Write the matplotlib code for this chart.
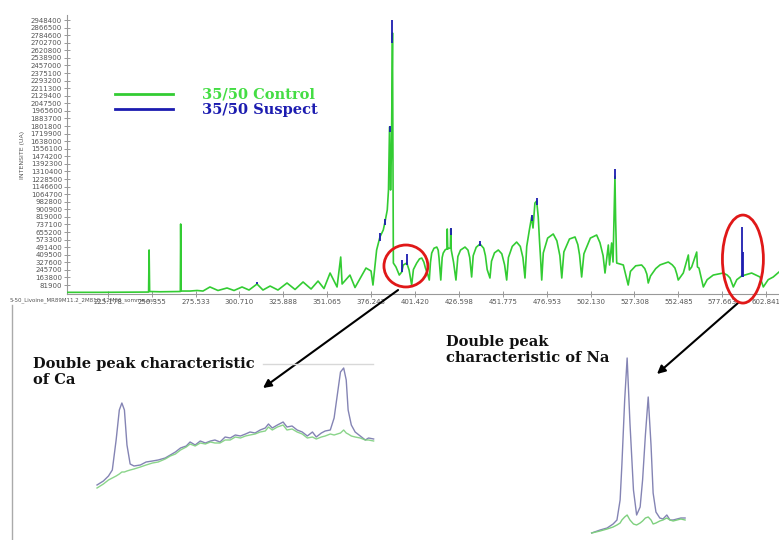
import matplotlib
matplotlib.use('Agg')
import matplotlib.pyplot as plt
from matplotlib.patches import Ellipse
from matplotlib.lines import Line2D

W, H = 779, 540
GREEN = '#33cc33'
BLUE = '#1c1cb0'

# ---------------- main spectrum (control), wavelength nm / intensity counts
control_nm = [
    201.8, 220.8, 247.7, 248.6, 248.9, 249.2, 255.2, 266.6, 266.8, 267.0,
    267.3, 272.4, 276.4, 279.8, 283.8, 288.4, 293.6, 297.6, 302.2, 306.2,
    310.8, 314.2, 318.3, 322.8, 328.0, 332.6, 337.2, 341.8, 345.8, 349.2,
    352.7, 356.7, 358.8, 359.6, 364.1, 367.0, 373.3, 376.2, 377.3, 379.4,
    381.3, 383.2, 384.2, 385.5, 386.2, 386.8, 387.4, 387.9, 388.5, 389.0,
    390.5, 392.4, 393.8, 394.7, 396.7, 398.0, 399.5,
    400.5, 402.4, 404.0, 405.3, 406.5, 407.4, 408.7, 409.6,
    410.3, 411.0, 412.3, 413.9, 414.7, 415.2, 416.2,
    417.0, 417.6, 418.8, 419.8, 419.9, 420.2, 421.0, 421.7, 421.9, 422.2, 423.5, 424.9,
    426.0, 427.5, 430.1, 431.8, 432.8, 433.9,
    434.8, 436.5, 438.7, 440.8, 441.8, 442.8, 444.4,
    445.3, 447.0, 449.2, 451.2, 452.8, 454.0,
    455.0, 457.2, 459.7, 461.8, 463.3, 464.5,
    465.5, 467.0, 468.3, 469.1, 470.2, 471.2, 472.1, 472.8, 473.5, 474.1,
    475.0, 477.5, 480.7, 482.8, 484.5, 485.6,
    486.8, 490.0, 493.2, 494.8, 495.8, 497.0,
    498.3, 502.0, 505.6, 507.5, 509.3, 510.4,
    512.3, 513.0, 514.2, 515.0, 515.8, 516.1, 516.5, 517.1, 520.9, 523.7,
    525.0, 528.0, 531.4, 533.2, 534.4, 535.2,
    536.5, 539.5, 542.0, 546.7, 549.0, 550.5, 551.6, 552.4,
    555.3, 558.2, 558.8, 560.1, 563.0, 563.4, 564.3, 566.8,
    569.0, 572.5, 578.2, 580.5, 582.1, 584.0,
    586.0, 588.8, 594.5, 599.3, 601.2, 604.0, 606.9, 610.2]
control_int = [
    3000, 3000, 6000, 6000, 461000, 12000, 9000, 12000, 12000, 742000,
    17000, 17000, 23000, 17000, 61000, 23000, 50000, 23000, 61000, 28000,
    93000, 28000, 71000, 28000, 104000, 34000, 115000, 39000, 125000, 44000,
    212000, 61000, 385000, 93000, 190000, 55000, 266000, 234000, 82000, 461000,
    602000, 677000, 764000, 894000, 1110000, 1792000, 1110000, 1543000, 2809000, 320000,
    277000, 190000, 223000, 299000, 320000, 245000, 82000,
    250000, 320000, 365000, 374000, 330000, 266000, 200000, 136000,
    330000, 428000, 480000, 493000, 460000, 374000, 136000,
    380000, 428000, 465000, 472000, 688000, 472000, 480000, 483000, 688000, 461000, 331000, 136000,
    390000, 460000, 493000, 460000, 380000, 169000,
    400000, 490000, 526000, 480000, 400000, 250000, 158000,
    340000, 430000, 461000, 420000, 300000, 136000,
    380000, 500000, 547000, 500000, 380000, 158000,
    500000, 677000, 818000, 699000, 969000, 991000, 818000, 569000, 350000, 136000,
    430000, 590000, 634000, 560000, 400000, 158000,
    440000, 580000, 602000, 520000, 407000, 169000,
    420000, 590000, 623000, 540000, 400000, 212000,
    515000, 299000, 537000, 331000, 1002000, 1256000, 785000, 320000, 299000, 82000,
    230000, 290000, 299000, 260000, 200000, 104000,
    180000, 260000, 300000, 331000, 300000, 266000, 200000, 136000,
    212000, 407000, 245000, 277000, 439000, 277000, 266000, 61000,
    140000, 190000, 212000, 190000, 158000, 61000,
    140000, 180000, 212000, 169000, 61000, 140000, 169000, 223000]

# suspect sample: where it rises above the control (wavelength, from, to)
suspect_nm = [310.8, 381.3, 384.2, 386.8, 388.5, 393.8, 396.9, 421.9, 438.7,
              468.3, 471.2, 516.1, 588.9, 589.5]
suspect_lo = [93000, 560000, 730000, 1740000, 2700000, 223000, 300000, 620000,
              500000, 780000, 950000, 1230000, 169000, 169000]
suspect_hi = [120000, 650000, 800000, 1800000, 2948400, 353000, 418000, 700000,
              560000, 840000, 1020000, 1337000, 713000, 440000]

y_tick_labels = ['81900', '163800', '245700', '327600', '409500', '491400',
                 '573300', '655200', '737100', '819000', '900900', '982800',
                 '1064700', '1146600', '1228500', '1310400', '1392300', '1474200',
                 '1556100', '1638000', '1719900', '1801800', '1883700', '1965600',
                 '2047500', '2129400', '2211300', '2293200', '2375100', '2457000',
                 '2538900', '2620800', '2702700', '2784600', '2866500', '2948400']
x_tick_labels = ['225.178', '250.355', '275.533', '300.710', '325.888', '351.065',
                 '376.243', '401.420', '426.598', '451.775', '476.953', '502.130',
                 '527.308', '552.485', '577.663', '602.841']

# ---------------- zoom on Ca H & K
ca_nm = [392.98, 393.08, 393.16, 393.22, 393.28, 393.33, 393.37, 393.41, 393.45, 393.50,
         393.56, 393.66, 393.75, 393.85, 393.94, 394.05, 394.13, 394.21, 394.29, 394.38,
         394.44, 394.52, 394.60, 394.68, 394.76, 394.83, 394.91, 394.99, 395.07, 395.15,
         395.23, 395.31, 395.38, 395.46, 395.54, 395.62, 395.67, 395.73, 395.81, 395.90,
         395.96, 396.04, 396.12, 396.20, 396.28, 396.36, 396.42, 396.50, 396.56, 396.64,
         396.70, 396.75, 396.80, 396.85, 396.89, 396.92, 396.97, 397.03, 397.11, 397.19,
         397.24, 397.32]
ca_suspect = [10, 14, 19, 25, 55, 85, 92, 85, 50, 31,
              29, 30, 33, 34, 35, 37, 40, 43, 47, 49,
              53, 50, 54, 52, 54, 55, 53, 58, 57, 60,
              59, 61, 63, 62, 65, 67, 71, 67, 70, 73,
              68, 69, 65, 63, 59, 63, 58, 62, 64, 65,
              77, 100, 123, 127, 115, 85, 70, 63, 59, 55,
              57, 56]
ca_control = [7, 11, 15, 17, 19, 21, 23, 23, 24, 25,
              26, 28, 30, 32, 33, 36, 39, 41, 45, 48,
              51, 49, 52, 51, 53, 52, 52, 55, 55, 58,
              57, 59, 60, 61, 63, 64, 68, 65, 68, 70,
              65, 66, 63, 61, 57, 58, 56, 58, 59, 61,
              60, 61, 62, 65, 62, 61, 59, 58, 57, 55,
              55, 54]

# ---------------- zoom on Na D lines
na_nm = [587.98, 588.22, 588.42, 588.59, 588.70, 588.79, 588.84, 588.92, 588.99, 589.07,
         589.17, 589.26, 589.36, 589.43, 589.51, 589.59, 589.67, 589.73, 589.81, 589.92,
         590.01, 590.12, 590.21, 590.30, 590.41, 590.52, 590.64]
na_suspect = [7, 10, 12, 16, 20, 40, 75, 140, 182, 117,
              50, 25, 33, 60, 105, 143, 95, 47, 28, 22,
              21, 25, 20, 20, 21, 22, 22]
na_control = [7, 9, 11, 13, 15, 17, 20, 23, 25, 20,
              16, 15, 17, 19, 22, 23, 20, 16, 17, 19,
              20, 22, 20, 19, 20, 21, 20]

fig = plt.figure(figsize=(W / 100, H / 100), dpi=100)
fig.patch.set_facecolor('white')

ax = fig.add_axes([67 / W, 1 - 294 / H, (W - 67) / W, (294 - 15.3) / H])
ax.set_xlim(201.8, 610.2)
ax.set_ylim(-15000, 3000000)
ax.plot(control_nm, control_int, color=GREEN, lw=1.2, zorder=3)
ax.vlines(suspect_nm, suspect_lo, suspect_hi, color=BLUE, lw=1.3, zorder=4)

for s in ['top', 'right']:
    ax.spines[s].set_visible(False)
for s in ['left', 'bottom']:
    ax.spines[s].set_color('#999999')
    ax.spines[s].set_linewidth(0.8)
ax.set_yticks([int(v) for v in y_tick_labels])
ax.set_yticklabels(y_tick_labels)
ax.set_xticks([float(v) for v in x_tick_labels])
ax.set_xticklabels(x_tick_labels)
ax.tick_params(axis='both', direction='inout', length=4, width=0.7,
               colors='#999999', labelcolor='#555555', labelsize=5, pad=1.5)
ax.set_ylabel('INTENSITE (UA)', fontsize=4.5, color='#555555', labelpad=4)

fig.text(10 / W, 1 - 300 / H, '5-50_Livoine_MR89M11.2_2M810_12M06_somme.asc',
         fontsize=4, color='#555555', va='center', ha='left')

serif = dict(family='DejaVu Serif', weight='bold')
handles = [Line2D([], [], color=GREEN, lw=2), Line2D([], [], color=BLUE, lw=2)]
leg = fig.legend(handles, ['35/50 Control', '35/50 Suspect'], loc='upper left',
                 bbox_to_anchor=(115 / W, 1 - 88 / H), frameon=False,
                 prop=dict(size=10.5, **serif), handlelength=4.0,
                 handletextpad=2.0, labelspacing=0.1, borderpad=0,
                 borderaxespad=0)
for t, c in zip(leg.get_texts(), ['#44dd44', BLUE]):
    t.set_color(c)

# red circles around the regions of interest
ax.add_patch(Ellipse((396.2, 288000), 25.2, 454000, fill=False,
                     edgecolor='#e01818', lw=2, clip_on=False, zorder=5))
ax.add_patch(Ellipse((589.5, 363000), 23.5, 952000, fill=False,
                     edgecolor='#e01818', lw=2, clip_on=False, zorder=5))

arrow = dict(arrowstyle='-|>', color='black', lw=1.5, mutation_scale=12,
             shrinkA=0, shrinkB=0)
ax.annotate('', xy=(263 / W, 1 - 388 / H), xycoords='figure fraction',
            xytext=(391.7, 28000), textcoords='data', arrowprops=arrow,
            annotation_clip=False)
ax.annotate('', xy=(657 / W, 1 - 374 / H), xycoords='figure fraction',
            xytext=(586.7, -112000), textcoords='data', arrowprops=arrow,
            annotation_clip=False)

fig.text(33 / W, 1 - 357 / H, 'Double peak characteristic\nof Ca', fontsize=10.5,
         va='top', ha='left', color='#111111', linespacing=1.15, **serif)
fig.text(446 / W, 1 - 335 / H, 'Double peak\ncharacteristic of Na', fontsize=10.5,
         va='top', ha='left', color='#111111', linespacing=1.15, **serif)

# decoration lines of the lower panel
fig.add_artist(Line2D([12 / W, 12 / W], [1 - 305 / H, 0], color='#aaaaaa', lw=1))
fig.add_artist(Line2D([263 / W, 373 / W], [1 - 364 / H, 1 - 364 / H],
                      color='#d8d8d8', lw=1))

ax_ca = fig.add_axes([90 / W, 1 - 495 / H, 290 / W, 135 / H])
ax_ca.axis('off')
ax_ca.set_xlim(392.87, 397.42)
ax_ca.set_ylim(0, 135)
ax_ca.plot(ca_nm, ca_suspect, color='#8484b4', lw=1.0)
ax_ca.plot(ca_nm, ca_control, color='#7ed07e', lw=1.0, alpha=0.9)

ax_na = fig.add_axes([585 / W, 0, 105 / W, 190 / H])
ax_na.axis('off')
ax_na.set_xlim(587.79, 590.78)
ax_na.set_ylim(0, 190)
ax_na.plot(na_nm, na_suspect, color='#8484b4', lw=1.0)
ax_na.plot(na_nm, na_control, color='#7ed07e', lw=1.0)

fig.savefig('out.png', dpi=100)
